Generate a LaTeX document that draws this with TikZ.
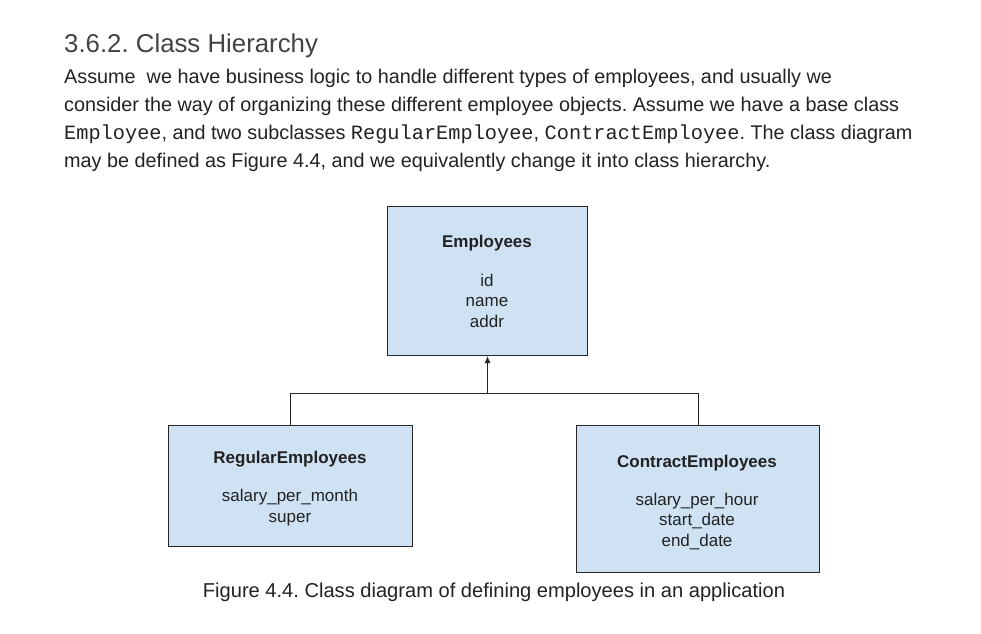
\documentclass[tikz,border=0pt]{standalone}
\usepackage{fontspec}
\setmainfont{Liberation Sans}
\setmonofont{Liberation Mono}
\usetikzlibrary{arrows.meta}
\tikzset{>=latex}
\definecolor{boxblue}{RGB}{207,226,243}
\definecolor{headgray}{RGB}{67,67,67}
\definecolor{textgray}{RGB}{34,34,34}
\newcommand{\codeword}[1]{{\ttfamily\fontsize{20.3}{28}\selectfont #1}}
\frenchspacing
\tikzset{
  classbox/.style={draw=black!85, fill=boxblue, line width=1pt, inner sep=0pt, anchor=north west},
  classname/.style={anchor=base, inner sep=0pt, font=\bfseries\fontsize{17}{20}\selectfont, text=textgray},
  attrs/.style={anchor=base, inner sep=0pt, align=center, font=\fontsize{17}{20.5}\selectfont, text=textgray},
  bodyline/.style={anchor=base west, inner sep=0pt, font=\fontsize{19.8}{28}\selectfont, text=textgray},
}

\begin{document}
\begin{tikzpicture}[x=1pt, y=-1pt]
  \useasboundingbox (0,0) rectangle (981,633);
  \node [anchor=base west, inner sep=0pt, font=\fontsize{25.8}{30}\selectfont, text=headgray] (head) at (64,52) {3.6.2. Class Hierarchy};
  \node [bodyline] (line1) at (64,83) {Assume\ \ we have business logic to handle different types of employees, and usually we};
  \node [bodyline] (line2) at (64,111) {consider the way of organizing these different employee objects. Assume we have a base class};
  \node [bodyline] (line3) at (64,139) {\codeword{Employee}, and two subclasses \codeword{RegularEmployee}, \codeword{ContractEmployee}. The class diagram};
  \node [bodyline] (line4) at (64,167) {may be defined as Figure 4.4, and we equivalently change it into class hierarchy.};

  \node [classbox, minimum width=200pt, minimum height=149pt] (emp) at (387,206) {};
  \node [classname] (empname) at (487,247) {Employees};
  \node [attrs] (empattrs) at (487,327) {id\\name\\addr};

  \node [classbox, minimum width=244pt, minimum height=121pt] (reg) at (168,425) {};
  \node [classname] (regname) at (290,463) {RegularEmployees};
  \node [attrs] (regattrs) at (290,522) {salary\_per\_month\\super};

  \node [classbox, minimum width=243pt, minimum height=147pt] (con) at (576,425) {};
  \node [classname] (conname) at (697,467) {ContractEmployees};
  \node [attrs] (conattrs) at (697,546) {salary\_per\_hour\\start\_date\\end\_date};

  \coordinate (join) at (emp.south |- 0,393);
  \draw [line width=1pt, black!85] (reg.north) |- (join) -| (con.north);
  \draw [line width=1pt, black!85, -{Latex[length=7pt, width=6pt]}] (join) -- (emp.south);

  \node [anchor=base, inner sep=0pt, font=\fontsize{20.1}{24}\selectfont, text=textgray] (caption) at (494,597) {Figure 4.4. Class diagram of defining employees in an application};
\end{tikzpicture}
\end{document}
